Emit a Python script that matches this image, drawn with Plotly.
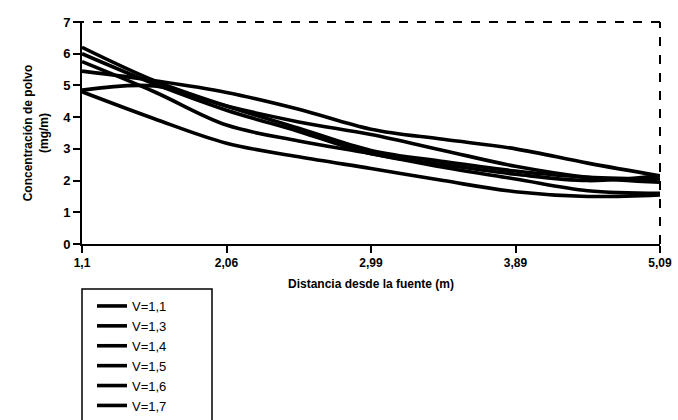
import plotly.graph_objects as go

# Stations along the (equally spaced) distance axis and their labels
tick_positions = [0, 1, 2, 3, 4]
tick_labels = ["1,1", "2,06", "2,99", "3,89", "5,09"]
stations = [0, 0.5, 1, 1.5, 2, 2.5, 3, 3.5, 4]

series_names = ["V=1,1", "V=1,3", "V=1,4", "V=1,5", "V=1,6", "V=1,7"]
v_1_1 = [4.80, 3.95, 3.18, 2.75, 2.38, 2.00, 1.65, 1.50, 1.55]
v_1_3 = [4.85, 4.98, 4.35, 3.85, 3.45, 2.95, 2.45, 2.10, 1.95]
v_1_4 = [5.45, 5.15, 4.78, 4.25, 3.62, 3.30, 3.00, 2.55, 2.15]
v_1_5 = [5.75, 4.80, 3.75, 3.25, 2.85, 2.42, 2.05, 1.68, 1.60]
v_1_6 = [6.20, 5.15, 4.35, 3.65, 2.95, 2.60, 2.30, 2.10, 2.05]
v_1_7 = [6.00, 5.05, 4.22, 3.55, 2.85, 2.50, 2.20, 2.00, 2.15]
series_values = [v_1_1, v_1_3, v_1_4, v_1_5, v_1_6, v_1_7]

FONT = "Liberation Sans, Arial, sans-serif"

fig = go.Figure()
for name, vals in zip(series_names, series_values):
    fig.add_trace(go.Scatter(
        x=stations, y=vals, name=name, mode="lines",
        line=dict(color="black", width=3.6, shape="spline", smoothing=1.0),
    ))

W, H = 678, 420
L, R, T, B = 82, 18, 22, 176
pw = W - L - R
ph = H - T - B

def py(Y):
    return (H - B - Y) / ph

def px(X):
    return (X - L) / pw

fig.update_layout(
    width=W, height=H,
    margin=dict(l=L, r=R, t=T, b=B, autoexpand=False),
    paper_bgcolor="white", plot_bgcolor="white",
    font=dict(family=FONT, color="black"),
    showlegend=True,
    legend=dict(
        x=px(92), xanchor="left", y=py(291), yanchor="top",
        font=dict(family=FONT, size=13, color="black"),
        bgcolor="rgba(0,0,0,0)", borderwidth=0,
        tracegroupgap=0,
    ),
    xaxis=dict(
        range=[0, 4], tickvals=tick_positions, ticktext=tick_labels,
        showgrid=False, zeroline=False,
        showline=True, linecolor="black", linewidth=2,
        ticks="outside", ticklen=7, tickwidth=2, tickcolor="black",
        tickfont=dict(family=FONT, size=12, weight="bold"),
        title=dict(text="Distancia desde la fuente (m)",
                   font=dict(family=FONT, size=12, weight="bold"), standoff=10),
    ),
    yaxis=dict(
        range=[0, 7], tickvals=[0, 1, 2, 3, 4, 5, 6, 7],
        showgrid=False, zeroline=False,
        showline=True, linecolor="black", linewidth=2,
        ticks="outside", ticklen=7, tickwidth=2, tickcolor="black",
        tickfont=dict(family=FONT, size=13, weight="bold"),
        title=dict(text="Concentración de polvo<br>(mg/m)",
                   font=dict(family=FONT, size=12, weight="bold"), standoff=12),
    ),
    shapes=[
        dict(type="line", xref="paper", yref="paper", x0=px(75), x1=1, y0=1, y1=1,
             line=dict(color="black", width=2, dash="dash")),
        dict(type="line", xref="paper", yref="paper", x0=1, x1=1, y0=0, y1=1,
             line=dict(color="black", width=2, dash="dash")),
        dict(type="rect", xref="paper", yref="paper",
             x0=0, x1=px(212), y0=py(289), y1=py(440),
             line=dict(color="black", width=1.5)),
    ],
)

fig.write_html("out.html", config={"displayModeBar": False},
               post_script="document.body.style.margin='0';")
